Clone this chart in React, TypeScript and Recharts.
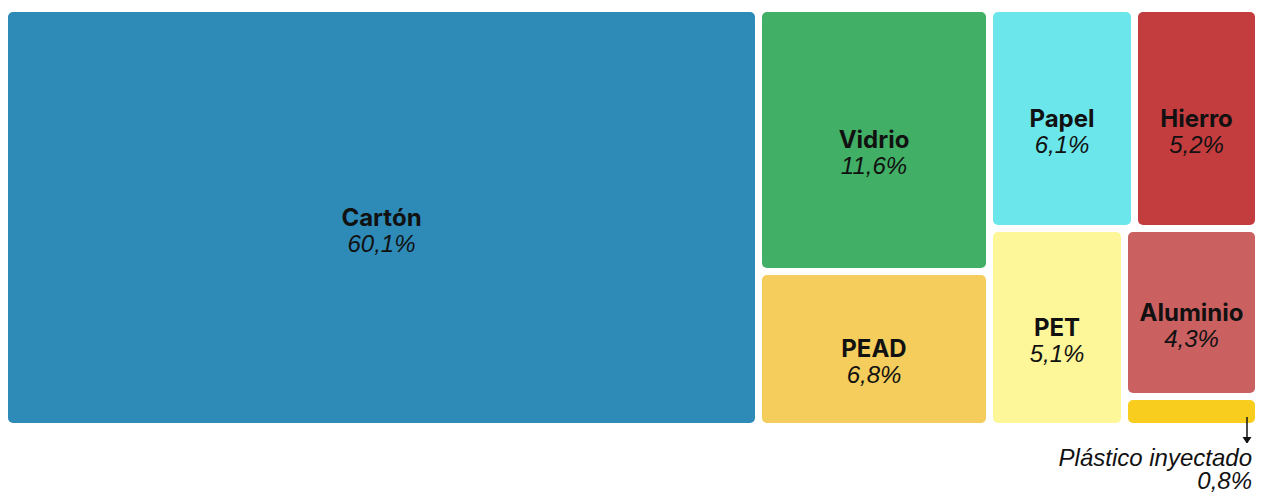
import { Treemap } from "recharts"

const materials = ["Cartón", "Vidrio", "PEAD", "Papel", "Hierro", "PET", "Aluminio", "Plástico inyectado"]
const shares = [60.1, 11.6, 6.8, 6.1, 5.2, 5.1, 4.3, 0.8]
const colors = ["#2E8BB8", "#41AF65", "#F4CD5C", "#6BE6EA", "#C43D3E", "#FEF79A", "#CB6061", "#F8CD1E"]

const data = materials.map((name, i) => ({ name, size: shares[i], color: colors[i] }))

const GAP = 7
const fmt = (v: number) => v.toFixed(1).replace(".", ",") + "%"
const nameFont = { fontFamily: "Inter", fontWeight: 700, fontSize: 24 }
const pctFont = { fontFamily: "'Liberation Sans', Arial, sans-serif", fontStyle: "italic", fontSize: 24 }

const Cell = (props: any) => {
  const { x, y, width, height, depth, name, size, color } = props
  if (depth !== 1) return null
  const w = width - GAP
  const h = height - GAP
  const cx = x + w / 2
  const cy = y + h / 2
  const small = h < 40
  return (
    <g>
      <rect x={x} y={y} width={w} height={h} rx={5} ry={5} fill={color} stroke="none" />
      {!small && (
        <>
          <text x={cx} y={cy + 8} textAnchor="middle" fill="#111" stroke="none" style={nameFont}>
            {name}
          </text>
          <text x={cx} y={cy + 34} textAnchor="middle" fill="#111" stroke="none" style={pctFont}>
            {fmt(size)}
          </text>
        </>
      )}
      {small && (
        <>
          <line x1={x + w - 8} y1={y + h - 6} x2={x + w - 8} y2={y + h + 19} stroke="#111" strokeWidth={1.5} />
          <path d={`M${x + w - 12},${y + h + 14} L${x + w - 8},${y + h + 20} L${x + w - 4},${y + h + 14}`}
            fill="#111" stroke="#111" strokeWidth={1} />
          <text x={x + w - 3} y={y + h + 43} textAnchor="end" fill="#111" stroke="none" style={pctFont}>
            {name}
          </text>
          <text x={x + w - 3} y={y + h + 66} textAnchor="end" fill="#111" stroke="none" style={pctFont}>
            {fmt(size)}
          </text>
        </>
      )}
    </g>
  )
}

export default function App() {
  return (
    <div style={{ paddingTop: 4, height: 484, boxSizing: "border-box" }}>
      <style>{`body { margin: 8px 0 0 8px; } #root, #root div, #root svg { overflow: visible !important; }`}</style>
      <Treemap
        width={1254}
        height={418}
        data={data}
        dataKey="size"
        nameKey="name"
        aspectRatio={1}
        content={<Cell />}
        isAnimationActive={false}
      />
    </div>
  )
}
